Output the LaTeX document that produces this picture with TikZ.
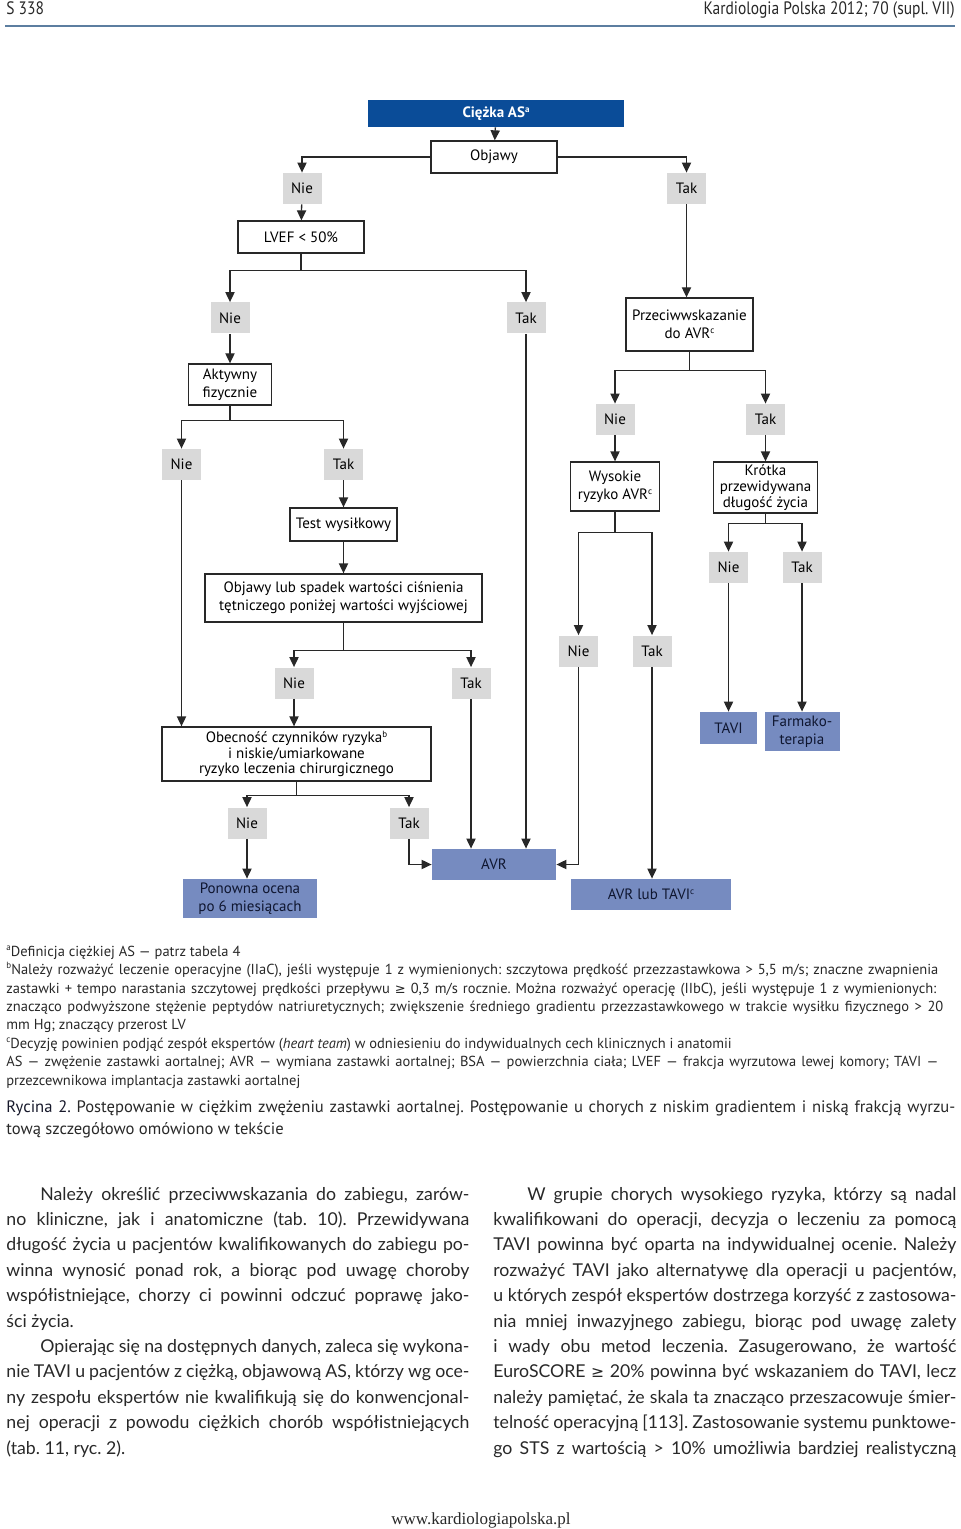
\documentclass[tikz,border=0pt]{standalone}
\usepackage{fontspec}
\setmainfont{PT Sans}
\newfontfamily\headfont[FakeStretch=0.86]{PT Sans}
\newfontfamily\bodyfont{Lato}
\newfontfamily\webfont{Liberation Serif}
\newfontfamily\symfont{DejaVu Sans}
\usetikzlibrary{shapes,arrows.meta}
\frenchspacing

\definecolor{sevblue}{RGB}{10,76,152}
\definecolor{outcomeblue}{RGB}{118,139,192}
\definecolor{outcomeink}{RGB}{15,22,48}
\definecolor{answergray}{RGB}{217,217,217}
\definecolor{linegray}{RGB}{40,40,40}
\definecolor{textgray}{RGB}{40,40,40}
\definecolor{rulecolor}{RGB}{92,126,160}
\definecolor{capink}{RGB}{22,24,42}

\newcommand{\diagsize}{\fontsize{7.5}{9}\selectfont}
\newcommand{\notesize}{\fontsize{7.25}{9}\selectfont}
\newcommand{\bodysize}{\bodyfont\fontsize{8.85}{12.7}\selectfont}
\newcommand{\capsize}{\fontsize{8.3}{11}\selectfont}
\newcommand{\gesym}{{\symfont\fontsize{6.5}{8}\selectfont ≥}}
\newcommand{\fnmark}[1]{\raisebox{0.7ex}{\fontsize{4.5}{5}\selectfont #1}}
\newcommand{\jline}[2]{\makebox[#1][s]{#2}}

\tikzstyle{block} = [draw=linegray, line width=0.65pt, rectangle, inner sep=0pt, align=center, font=\diagsize, text=black]
\tikzstyle{answer} = [rectangle, fill=answergray, minimum width=19.5pt, minimum height=15.5pt, inner sep=0pt, font=\diagsize]
\tikzstyle{outcome} = [rectangle, fill=outcomeblue, text=outcomeink, inner sep=0pt, align=center, font=\diagsize]
\tikzstyle{line} = [draw=linegray, line width=0.65pt]
\tikzstyle{bodyline} = [anchor=base west, inner sep=0pt, font=\bodysize, text=textgray]
\tikzstyle{noteline} = [anchor=base west, inner sep=0pt, font=\notesize, text=textgray]

\begin{document}
\begin{tikzpicture}[x=0.5pt, y=-0.5pt, >={Triangle[length=5pt,width=4.6pt]}]
    \useasboundingbox (0,0) rectangle (960,1529);

    % page header
    \node [anchor=base west, inner sep=0pt, font=\headfont\fontsize{9}{10}\selectfont, text=textgray] (pagenum) at (6,15) {S 338};
    \node [anchor=base east, inner sep=0pt, font=\headfont\fontsize{9}{10}\selectfont, text=textgray] (journal) at (955,15) {Kardiologia Polska 2012; 70 (supl. VII)};
    \draw [rulecolor, line width=1.1pt] (5,26) -- (955,26);

    % We start by placing the blocks
    \node [rectangle, fill=sevblue, text=white, inner sep=0pt, font=\diagsize\bfseries, minimum width=128pt, minimum height=13.5pt] (sev) at (496,113.5) {Ciężka AS\fnmark{a}};
    \node [block, minimum width=63pt, minimum height=16pt] (objawy) at (494,157) {Objawy};
    \node [answer] (nie1) at (302,188.5) {Nie};
    \node [answer] (tak1) at (686.5,188.5) {Tak};
    \node [block, minimum width=63pt, minimum height=16pt] (lvef) at (301,237) {LVEF < 50\%};
    \node [answer] (nie2) at (230,318) {Nie};
    \node [answer] (tak2) at (526,318) {Tak};
    \node [block, minimum width=63.5pt, minimum height=26.5pt] (przec) at (689.5,324.5) {Przeciwwskazanie\\do AVR\fnmark{c}};
    \node [block, minimum width=41.5pt, minimum height=20.5pt] (akt) at (230,384.5) {Aktywny\\fizycznie};
    \node [answer] (nie3) at (615,419.5) {Nie};
    \node [answer] (tak3) at (765.5,419.5) {Tak};
    \node [answer] (nie4) at (181.5,464.5) {Nie};
    \node [answer] (tak4) at (343.5,464.5) {Tak};
    \node [block, minimum width=44.5pt, minimum height=24.5pt] (wys) at (615,486.5) {Wysokie\\ryzyko AVR\fnmark{c}};
    \node [block, minimum width=52pt, minimum height=25.5pt, font=\fontsize{7.5}{7.9}\selectfont] (krot) at (765.5,487.5) {Krótka\\przewidywana\\długość życia};
    \node [block, minimum width=53.5pt, minimum height=16.5pt] (test) at (343.5,524.5) {Test wysiłkowy};
    \node [answer] (nie5) at (728.5,567.5) {Nie};
    \node [answer] (tak5) at (802,567.5) {Tak};
    \node [block, minimum width=138.5pt, minimum height=24pt] (objsp) at (343.5,598) {Objawy lub spadek wartości ciśnienia\\tętniczego poniżej wartości wyjściowej};
    \node [answer] (nie6) at (578.5,651) {Nie};
    \node [answer] (tak6) at (652,651) {Tak};
    \node [answer] (nie7) at (294,683) {Nie};
    \node [answer] (tak7) at (471,683) {Tak};
    \node [outcome, minimum width=28.5pt, minimum height=16pt] (tavi) at (728.5,728) {TAVI};
    \node [outcome, minimum width=37.5pt, minimum height=19.5pt] (farm) at (802,731.5) {Farmako-\\terapia};
    \node [block, minimum width=134.5pt, minimum height=27pt, font=\fontsize{7.5}{7.8}\selectfont] (obec) at (296.5,754) {Obecność czynników ryzyka\fnmark{b}\\i niskie/umiarkowane\\ryzyko leczenia chirurgicznego};
    \node [answer] (nie8) at (247,823) {Nie};
    \node [answer] (tak8) at (409,823) {Tak};
    \node [outcome, minimum width=62pt, minimum height=15.5pt] (avr) at (494,864.5) {AVR};
    \node [outcome, minimum width=80pt, minimum height=15.5pt] (avrt) at (651,894.5) {AVR lub TAVI\fnmark{c}};
    \node [outcome, minimum width=67pt, minimum height=19.5pt] (pon) at (250,898.5) {Ponowna ocena\\po 6 miesiącach};

    % connectors
    \draw [line,->] (sev) -- (objawy);
    \draw [line,->] (objawy.west) -| (nie1);
    \draw [line,->] (objawy.east) -| (tak1);
    \draw [line,->] (nie1) -- (lvef);
    \draw [line,->] (tak1) -- (tak1 |- przec.north);
    \draw [line,->] (lvef.south) -- ++(0,17) -| (nie2);
    \draw [line,->] (lvef.south) -- ++(0,17) -| (tak2);
    \draw [line,->] (nie2) -- (akt);
    \draw [line,->] (tak2) -- (tak2 |- avr.north);
    \draw [line,->] (przec.south) -- ++(0,19) -| (nie3);
    \draw [line,->] (przec.south) -- ++(0,19) -| (tak3);
    \draw [line,->] (nie3) -- (wys);
    \draw [line,->] (tak3) -- (krot);
    \draw [line,->] (akt.south) -- ++(0,15) -| (nie4);
    \draw [line,->] (akt.south) -- ++(0,15) -| (tak4);
    \draw [line,->] (nie4) -- (nie4 |- obec.north);
    \draw [line,->] (tak4) -- (test);
    \draw [line,->] (test) -- (objsp);
    \draw [line,->] (objsp.south) -- ++(0,28) -| (nie7);
    \draw [line,->] (objsp.south) -- ++(0,28) -| (tak7);
    \draw [line,->] (nie7) -- (nie7 |- obec.north);
    \draw [line,->] (tak7) -- (tak7 |- avr.north);
    \draw [line,->] (wys.south) -- ++(0,21) -| (nie6);
    \draw [line,->] (wys.south) -- ++(0,21) -| (tak6);
    \draw [line,->] (nie6) |- (avr.east);
    \draw [line,->] (tak6) -- (tak6 |- avrt.north);
    \draw [line,->] (krot.south) -- ++(0,10) -| (nie5);
    \draw [line,->] (krot.south) -- ++(0,10) -| (tak5);
    \draw [line,->] (nie5) -- (tavi);
    \draw [line,->] (tak5) -- (farm);
    \draw [line,->] (obec.south) -- ++(0,14) -| (nie8);
    \draw [line,->] (obec.south) -- ++(0,14) -| (tak8);
    \draw [line,->] (nie8) -- (nie8 |- pon.north);
    \draw [line,->] (tak8) |- (avr.west);

    % footnotes
    \node [noteline] (fna) at (6,956) {\fnmark{a}Definicja ciężkiej AS — patrz tabela 4};
    \node [noteline] (fnb1) at (6,974) {\jline{466pt}{\fnmark{b}Należy rozważyć leczenie operacyjne (IIaC), jeśli występuje 1 z wymienionych: szczytowa prędkość przezzastawkowa > 5,5 m/s; znaczne zwapnienia}};
    \node [noteline] (fnb2) at (6,993) {\jline{465pt}{zastawki + tempo narastania szczytowej prędkości przepływu \gesym{} 0,3 m/s rocznie. Można rozważyć operację (IIbC), jeśli występuje 1 z wymienionych:}};
    \node [noteline] (fnb3) at (6,1011) {\jline{468.5pt}{znacząco podwyższone stężenie peptydów natriuretycznych; zwiększenie średniego gradientu przezzastawkowego w trakcie wysiłku fizycznego > 20}};
    \node [noteline] (fnb4) at (6,1029) {mm Hg; znaczący przerost LV};
    \node [noteline] (fnc) at (6,1048) {\fnmark{c}Decyzję powinien podjąć zespół ekspertów (\textit{heart team}) w odniesieniu do indywidualnych cech klinicznych i anatomii};
    \node [noteline] (abbr1) at (6,1066) {\jline{466pt}{AS — zwężenie zastawki aortalnej; AVR — wymiana zastawki aortalnej; BSA — powierzchnia ciała; LVEF — frakcja wyrzutowa lewej komory; TAVI —}};
    \node [noteline] (abbr2) at (6,1085) {przezcewnikowa implantacja zastawki aortalnej};

    % caption
    \node [anchor=base west, inner sep=0pt, font=\capsize, text=textgray] (cap1) at (6,1112) {\jline{474.5pt}{{\color{capink}Rycina 2.} Postępowanie w ciężkim zwężeniu zastawki aortalnej. Postępowanie u chorych z niskim gradientem i niską frakcją wyrzu-}};
    \node [anchor=base west, inner sep=0pt, font=\capsize, text=textgray] (cap2) at (6,1134) {tową szczegółowo omówiono w tekście};

    % left column
    \node [bodyline] (l1) at (40,1200) {\jline{214.5pt}{Należy określić przeciwwskazania do zabiegu, zarów-}};
    \node [bodyline] (l2) at (6,1225.4) {\jline{231.5pt}{no kliniczne, jak i anatomiczne (tab. 10). Przewidywana}};
    \node [bodyline] (l3) at (6,1250.8) {\jline{231.5pt}{długość życia u pacjentów kwalifikowanych do zabiegu po-}};
    \node [bodyline] (l4) at (6,1276.2) {\jline{231.5pt}{winna wynosić ponad rok, a biorąc pod uwagę choroby}};
    \node [bodyline] (l5) at (6,1301.6) {\jline{231.5pt}{współistniejące, chorzy ci powinni odczuć poprawę jako-}};
    \node [bodyline] (l6) at (6,1327) {ści życia.};
    \node [bodyline] (l7) at (40,1352.4) {\jline{214.5pt}{Opierając się na dostępnych danych, zaleca się wykona-}};
    \node [bodyline] (l8) at (6,1377.8) {\jline{231.5pt}{nie TAVI u pacjentów z ciężką, objawową AS, którzy wg oce-}};
    \node [bodyline] (l9) at (6,1403.2) {\jline{231.5pt}{ny zespołu ekspertów nie kwalifikują się do konwencjonal-}};
    \node [bodyline] (l10) at (6,1428.6) {\jline{231.5pt}{nej operacji z powodu ciężkich chorób współistniejących}};
    \node [bodyline] (l11) at (6,1454) {(tab. 11, ryc. 2).};

    % right column
    \node [bodyline] (r1) at (527,1200) {\jline{214.5pt}{W grupie chorych wysokiego ryzyka, którzy są nadal}};
    \node [bodyline] (r2) at (493,1225.4) {\jline{231.5pt}{kwalifikowani do operacji, decyzja o leczeniu za pomocą}};
    \node [bodyline] (r3) at (493,1250.8) {\jline{231.5pt}{TAVI powinna być oparta na indywidualnej ocenie. Należy}};
    \node [bodyline] (r4) at (493,1276.2) {\jline{231.5pt}{rozważyć TAVI jako alternatywę dla operacji u pacjentów,}};
    \node [bodyline] (r5) at (493,1301.6) {\jline{231.5pt}{u których zespół ekspertów dostrzega korzyść z zastosowa-}};
    \node [bodyline] (r6) at (493,1327) {\jline{231.5pt}{nia mniej inwazyjnego zabiegu, biorąc pod uwagę zalety}};
    \node [bodyline] (r7) at (493,1352.4) {\jline{231.5pt}{i wady obu metod leczenia. Zasugerowano, że wartość}};
    \node [bodyline] (r8) at (493,1377.8) {\jline{231.5pt}{EuroSCORE {\symfont\fontsize{7.8}{9}\selectfont ≥} 20\% powinna być wskazaniem do TAVI, lecz}};
    \node [bodyline] (r9) at (493,1403.2) {\jline{231.5pt}{należy pamiętać, że skala ta znacząco przeszacowuje śmier-}};
    \node [bodyline] (r10) at (493,1428.6) {\jline{231.5pt}{telność operacyjną [113]. Zastosowanie systemu punktowe-}};
    \node [bodyline] (r11) at (493,1454) {\jline{231.5pt}{go STS z wartością > 10\% umożliwia bardziej realistyczną}};

    % page footer
    \node [anchor=base, inner sep=0pt, font=\webfont\fontsize{8.5}{10}\selectfont, text=textgray] (web) at (481,1524) {www.kardiologiapolska.pl};

\end{tikzpicture}
\end{document}
